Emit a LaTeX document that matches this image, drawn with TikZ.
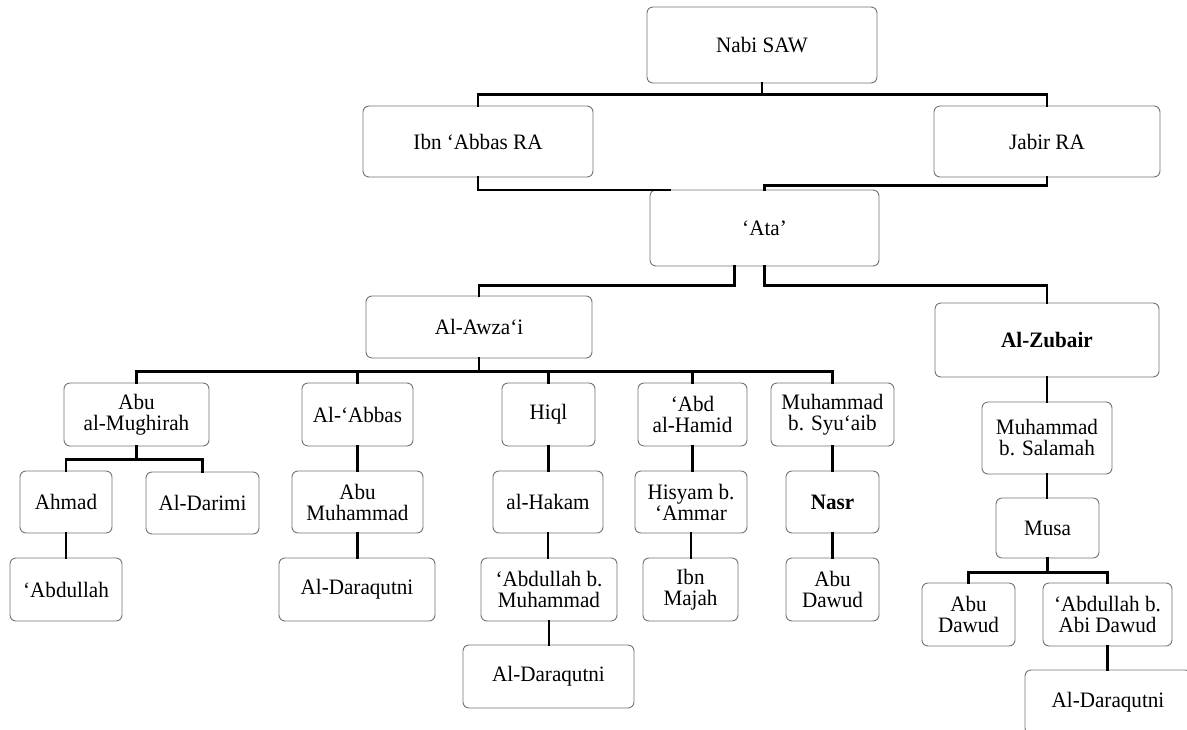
\documentclass[tikz,border=0pt]{standalone}
\usepackage{fontspec}
\setmainfont{Liberation Serif}[FakeStretch=0.96]
\begin{document}
\begin{tikzpicture}[x=1pt,y=-1pt,
  bx/.style={draw=black!55, line width=0.9pt, rounded corners=6pt, fill=white,
    inner sep=0pt, align=center, font=\fontsize{22}{21}\selectfont},
  ln/.style={draw=black, line width=2.4pt, line cap=rect}]
\useasboundingbox (0,0) rectangle (1187,729);
\clip (0,0) rectangle (1187,729);
% nodes
\node[bx, minimum width=230, minimum height=76] (nabi) at (762,45) {Nabi SAW};
\node[bx, minimum width=230, minimum height=71] (ibn) at (478,141.5) {Ibn ‘Abbas RA};
\node[bx, minimum width=226, minimum height=71] (jabir) at (1047,141.5) {Jabir RA};
\node[bx, minimum width=229, minimum height=76] (ata) at (764.5,228) {‘Ata’};
\node[bx, minimum width=226, minimum height=62] (awzai) at (479,327) {Al-Awza‘i};
\node[bx, minimum width=224, minimum height=74] (zubair) at (1047,340) {\bfseries Al-Zubair};
\node[bx, minimum width=145, minimum height=63] (mughirah) at (136.5,414.5) {Abu\\al-Mughirah};
\node[bx, minimum width=111, minimum height=63] (abbas) at (357.5,414.5) {Al-‘Abbas};
\node[bx, minimum width=93, minimum height=63] (hiql) at (548.5,414.5) {Hiql};
\node[bx, minimum width=109, minimum height=63] (abdhamid) at (692.5,414.5) {‘Abd\\al-Hamid};
\node[bx, minimum width=123, minimum height=63] (syuaib) at (832.5,414.5) {Muhammad\\b. Syu‘aib};
\node[bx, minimum width=92, minimum height=62] (ahmad) at (66,502) {Ahmad};
\node[bx, minimum width=113, minimum height=62] (darimi) at (202.5,503) {Al-Darimi};
\node[bx, minimum width=131, minimum height=62] (abumuh) at (357.5,502) {Abu\\Muhammad};
\node[bx, minimum width=110, minimum height=62] (hakam) at (548,502) {al-Hakam};
\node[bx, minimum width=112, minimum height=62] (hisyam) at (691,502) {Hisyam b.\\‘Ammar};
\node[bx, minimum width=93, minimum height=62] (nasr) at (832.5,502) {\bfseries Nasr};
\node[bx, minimum width=112, minimum height=63] (abdullah) at (66,589.5) {‘Abdullah};
\node[bx, minimum width=156, minimum height=63] (daraqa) at (357,589.5) {Al-Daraqutni};
\node[bx, minimum width=136, minimum height=63] (abdmuh) at (549,589.5) {‘Abdullah b.\\Muhammad};
\node[bx, minimum width=95, minimum height=63] (ibnmajah) at (690.5,589.5) {Ibn\\Majah};
\node[bx, minimum width=93, minimum height=63] (abudawuda) at (832.5,589.5) {Abu\\Dawud};
\node[bx, minimum width=171, minimum height=63] (daraqb) at (548.5,676.5) {Al-Daraqutni};
\node[bx, minimum width=130, minimum height=72] (salamah) at (1047,438) {Muhammad\\b. Salamah};
\node[bx, minimum width=103, minimum height=60] (musa) at (1047.5,528) {Musa};
\node[bx, minimum width=93, minimum height=63] (abudawudb) at (968.5,614.5) {Abu\\Dawud};
\node[bx, minimum width=129, minimum height=63] (abdabi) at (1107.5,614.5) {‘Abdullah b.\\Abi Dawud};
\node[bx, minimum width=166, minimum height=64] (daraqc) at (1108,702) {Al-Daraqutni};
% connectors
\draw[ln] (nabi.south) -- ++(0,11) coordinate (n1);
\draw[ln] (ibn.north) |- (n1) -| (jabir.north);
\draw[ln] (ibn.south) |- ([xshift=20pt,yshift=-0.5pt]ata.north west);
\draw[ln] (jabir.south) -- ++(0,8) -| (ata.north);
\draw[ln] ([xshift=-30pt]ata.south) -- ++(0,19) -| (awzai.north);
\draw[ln] (ata.south) -- ++(0,19) -| (zubair.north);
\foreach \c in {mughirah,abbas,hiql,abdhamid,syuaib}
  \draw[ln] (awzai.south) -- ++(0,13) -| (\c.north);
\foreach \c in {ahmad,darimi}
  \draw[ln] (mughirah.south) -- ++(0,13) -| (\c.north);
\draw[ln] (ahmad.south) -- (ahmad.south |- abdullah.north);
\draw[ln] (abbas.south) -- (abbas.south |- abumuh.north);
\draw[ln] (abumuh.south) -- (abumuh.south |- daraqa.north);
\draw[ln] (hiql.south) -- (hiql.south |- hakam.north);
\draw[ln] (hakam.south) -- (hakam.south |- abdmuh.north);
\draw[ln] (abdmuh.south) -- (abdmuh.south |- daraqb.north);
\draw[ln] (abdhamid.south) -- (abdhamid.south |- hisyam.north);
\draw[ln] (hisyam.south) -- (hisyam.south |- ibnmajah.north);
\draw[ln] (syuaib.south) -- (syuaib.south |- nasr.north);
\draw[ln] (nasr.south) -- (nasr.south |- abudawuda.north);
\draw[ln] (zubair.south) -- (zubair.south |- salamah.north);
\draw[ln] (salamah.south) -- (salamah.south |- musa.north);
\foreach \c in {abudawudb,abdabi}
  \draw[ln] (musa.south) -- ++(0,14) -| (\c.north);
\draw[ln] (abdabi.south) -- (abdabi.south |- daraqc.north);
\end{tikzpicture}
\end{document}
